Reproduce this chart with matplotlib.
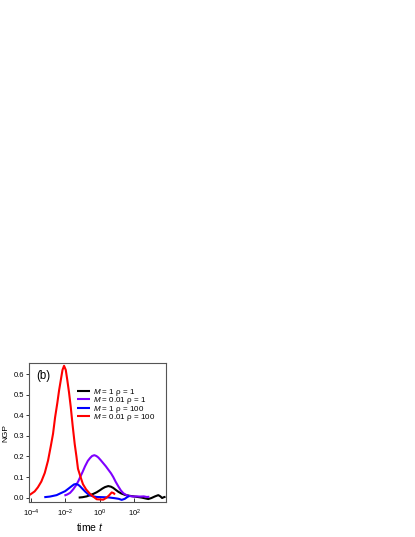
import matplotlib
matplotlib.use("Agg")
import matplotlib.pyplot as plt
import numpy as np

plt.rcParams['font.family'] = ['Liberation Sans', 'DejaVu Sans']
plt.rcParams['mathtext.fontset'] = 'custom'
plt.rcParams['mathtext.rm'] = 'Liberation Sans'
plt.rcParams['mathtext.it'] = 'Liberation Sans:italic'

# log10(time) and NGP
lt_black = [-1.23, -1.00, -0.76, -0.57, -0.38, -0.18, 0.01, 0.15, 0.30, 0.49, 0.65, 0.78, 0.92, 1.08,
            1.25, 1.47, 1.70, 1.95, 2.20, 2.44, 2.65, 2.82, 3.00, 3.21, 3.40, 3.52, 3.62, 3.72, 3.82]
ngp_black = [0.0, 0.002, 0.006, 0.012, 0.018, 0.026, 0.036, 0.044, 0.051, 0.056, 0.053, 0.047, 0.038, 0.028,
             0.020, 0.013, 0.009, 0.006, 0.003, 0.0, -0.004, -0.007, -0.002, 0.006, 0.012, 0.006, -0.002, 0.002, 0.004]

lt_purple = [-2.06, -1.90, -1.73, -1.55, -1.38, -1.25, -1.15, -1.00, -0.86, -0.70, -0.57, -0.45, -0.32, -0.20,
             -0.09, 0.05, 0.20, 0.35, 0.49, 0.65, 0.78, 0.92, 1.08, 1.22, 1.37, 1.55, 1.70, 1.95, 2.15,
             2.34, 2.55, 2.73, 2.88]
ngp_purple = [0.010, 0.015, 0.023, 0.040, 0.060, 0.080, 0.098, 0.125, 0.152, 0.178, 0.192, 0.202, 0.206, 0.202,
              0.195, 0.182, 0.167, 0.152, 0.136, 0.118, 0.100, 0.077, 0.054, 0.035, 0.021, 0.012, 0.008, 0.005, 0.006,
              0.005, 0.006, 0.003, 0.004]

lt_blue = [-3.23, -2.90, -2.51, -2.31, -2.02, -1.80, -1.63, -1.50, -1.38, -1.25, -1.15, -1.00, -0.86, -0.70,
           -0.57, -0.38, -0.18, 0.20, 0.50, 0.88, 1.10, 1.27, 1.45, 1.60, 1.72]
ngp_blue = [0.002, 0.005, 0.012, 0.020, 0.031, 0.045, 0.056, 0.064, 0.066, 0.062, 0.055, 0.042, 0.030, 0.018,
            0.011, 0.006, 0.003, 0.002, 0.001, -0.003, -0.006, -0.011, -0.006, 0.003, 0.008]

lt_red = [-4.08, -3.79, -3.60, -3.40, -3.20, -3.01, -2.85, -2.72, -2.60, -2.47, -2.37, -2.27, -2.17, -2.08,
          -1.98, -1.89, -1.79, -1.69, -1.58, -1.46, -1.36, -1.27, -1.12, -0.98, -0.80, -0.59, -0.40, -0.18,
          0.20, 0.40, 0.55, 0.69, 0.80, 0.88]
ngp_red = [0.013, 0.030, 0.050, 0.078, 0.120, 0.180, 0.250, 0.310, 0.390, 0.460, 0.520, 0.570, 0.620, 0.640,
           0.620, 0.570, 0.510, 0.440, 0.350, 0.260, 0.200, 0.140, 0.100, 0.065, 0.040, 0.020, 0.006, -0.008,
           -0.010, 0.0, 0.012, 0.025, 0.022, 0.015]

labels = [r'$M$ = 1 ρ = 1', r'$M$ = 0.01 ρ = 1', r'$M$ = 1 ρ = 100', r'$M$ = 0.01 ρ = 100']
colors = ['black', '#7f00ff', '#0000ff', '#ff0000']
xtick_vals = [1e-4, 1e-2, 1e0, 1e2]
xtick_labels = [r'$10^{-4}$', r'$10^{-2}$', r'$10^{0}$', r'$10^{2}$']
ytick_vals = [0.0, 0.1, 0.2, 0.3, 0.4, 0.5, 0.6]

fig = plt.figure(figsize=(4.15, 5.37), dpi=100)
ax = fig.add_axes([0.0706, 0.0657, 0.3287, 0.2577])

series = [(lt_black, ngp_black), (lt_purple, ngp_purple), (lt_blue, ngp_blue), (lt_red, ngp_red)]
for (lt, v), c, lab in zip(series, colors, labels):
    ax.plot(10 ** np.array(lt), v, color=c, lw=1.5, label=lab, solid_capstyle='butt')

ax.set_xscale('log')
ax.set_xlim(10 ** -4.1, 10 ** 3.83)
ax.set_ylim(-0.02, 0.652)
ax.set_xticks(xtick_vals)
ax.set_xticklabels(xtick_labels)
ax.minorticks_off()
ax.set_yticks(ytick_vals)
ax.set_yticklabels(['%.1f' % v for v in ytick_vals])
ax.tick_params(axis='x', direction='in', length=3, width=0.7, labelsize=5.5, pad=4, color='#333333')
ax.tick_params(axis='y', direction='out', length=2.5, width=0.7, labelsize=5.5, pad=1.2, color='#333333')
for s in ax.spines.values():
    s.set_color('#555555')
    s.set_linewidth(0.8)

ax.set_ylabel('NGP', fontsize=6, labelpad=3)
ax.set_xlabel(r'time $t$', fontsize=7.5)
ax.xaxis.set_label_coords(0.447, -0.14)

ax.text(0.05, 0.91, '(b)', transform=ax.transAxes, fontsize=8.3, va='center', ha='left')

ax.legend(loc='upper left', bbox_to_anchor=(0.35, 0.83), frameon=False, fontsize=5.8,
          borderpad=0, borderaxespad=0, labelspacing=-0.33, handlelength=1.6, handletextpad=0.4)

fig.savefig('out.png', dpi=100)
